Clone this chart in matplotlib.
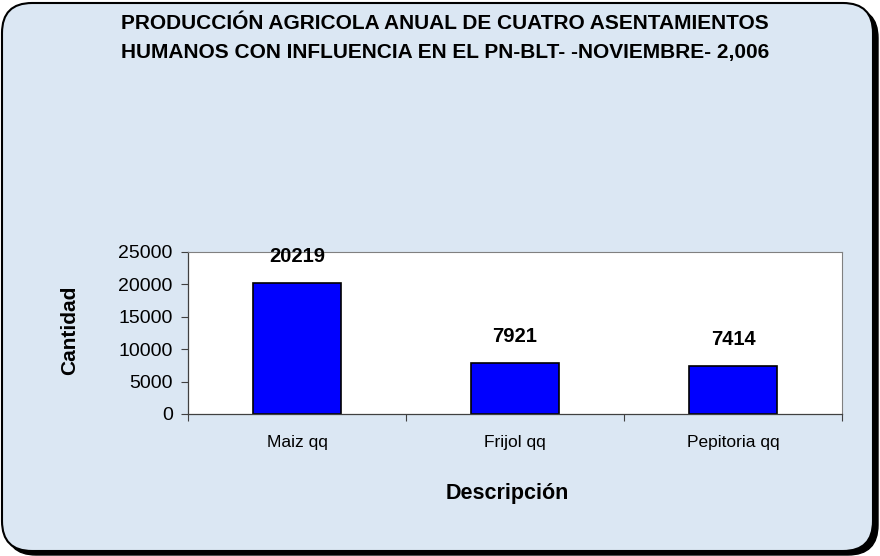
import matplotlib
matplotlib.use("Agg")
import matplotlib.pyplot as plt
from matplotlib.patches import FancyBboxPatch

categories = ["Maiz qq", "Frijol qq", "Pepitoria qq"]
values = [20219, 7921, 7414]
yticks = [0, 5000, 10000, 15000, 20000, 25000]

plt.rcParams["font.family"] = ["Liberation Sans", "DejaVu Sans"]

W, H = 880, 556
fig = plt.figure(figsize=(W / 100, H / 100), dpi=100)
fig.patch.set_facecolor("white")

# background layer holding the rounded frame and its shadow
bg = fig.add_axes([0, 0, 1, 1], zorder=-1)
bg.set_xlim(0, W)
bg.set_ylim(0, H)
bg.axis("off")
shadow = FancyBboxPatch((6, 1), W - 8, H - 9,
                        boxstyle="round,pad=0,rounding_size=30",
                        facecolor="black", edgecolor="black", linewidth=1)
frame = FancyBboxPatch((2, 5), W - 9, H - 8,
                       boxstyle="round,pad=0,rounding_size=30",
                       facecolor="#dbe7f3", edgecolor="black", linewidth=1.5)
bg.add_patch(shadow)
bg.add_patch(frame)

ax = fig.add_axes([188 / W, 1 - 414 / H, (842 - 188) / W, (414 - 252) / H])
ax.set_facecolor("white")
x = list(range(len(categories)))
ax.bar(x, values, width=0.405, color="#0000ff", edgecolor="black", linewidth=1.2)
for xi, v in zip(x, values):
    ax.annotate(str(v), (xi, v), xytext=(0, 12), textcoords="offset points",
                ha="center", va="bottom", fontsize=14.5, fontweight="bold")

ax.set_xlim(-0.5, len(categories) - 0.5)
ax.set_ylim(0, 25000)
ax.set_yticks(yticks)
ax.set_yticklabels([str(t) for t in yticks], fontsize=14)
ax.set_xticks(x)
ax.set_xticklabels(categories, fontsize=12.5)
ax.tick_params(axis="x", length=0, pad=15)
ax.set_xticks([i - 0.5 for i in range(len(categories) + 1)], minor=True)
ax.tick_params(axis="x", which="minor", length=5, width=0.8, color="#404040")
ax.tick_params(axis="y", length=5, width=0.8, color="#404040", pad=6)
for s in ["top", "right"]:
    ax.spines[s].set_color("#808080")
    ax.spines[s].set_linewidth(0.8)
for s in ["left", "bottom"]:
    ax.spines[s].set_color("#404040")
    ax.spines[s].set_linewidth(0.9)

ax.set_ylabel("Cantidad", fontsize=15, fontweight="bold", va="center")
ax.yaxis.set_label_coords((70 - 188) / 654, (414 - 330) / 162)
ax.set_xlabel("Descripción", fontsize=15.5, fontweight="bold", va="center")
ax.xaxis.set_label_coords((507 - 188) / 654, (414 - 493) / 162)

fig.text(445 / W, 1 - 38 / H,
         "PRODUCCIÓN AGRICOLA ANUAL DE CUATRO ASENTAMIENTOS\n"
         "HUMANOS CON INFLUENCIA EN EL PN-BLT- -NOVIEMBRE- 2,006",
         ha="center", va="center", fontsize=15, fontweight="bold", linespacing=1.65)

fig.savefig("out.png", dpi=100)
